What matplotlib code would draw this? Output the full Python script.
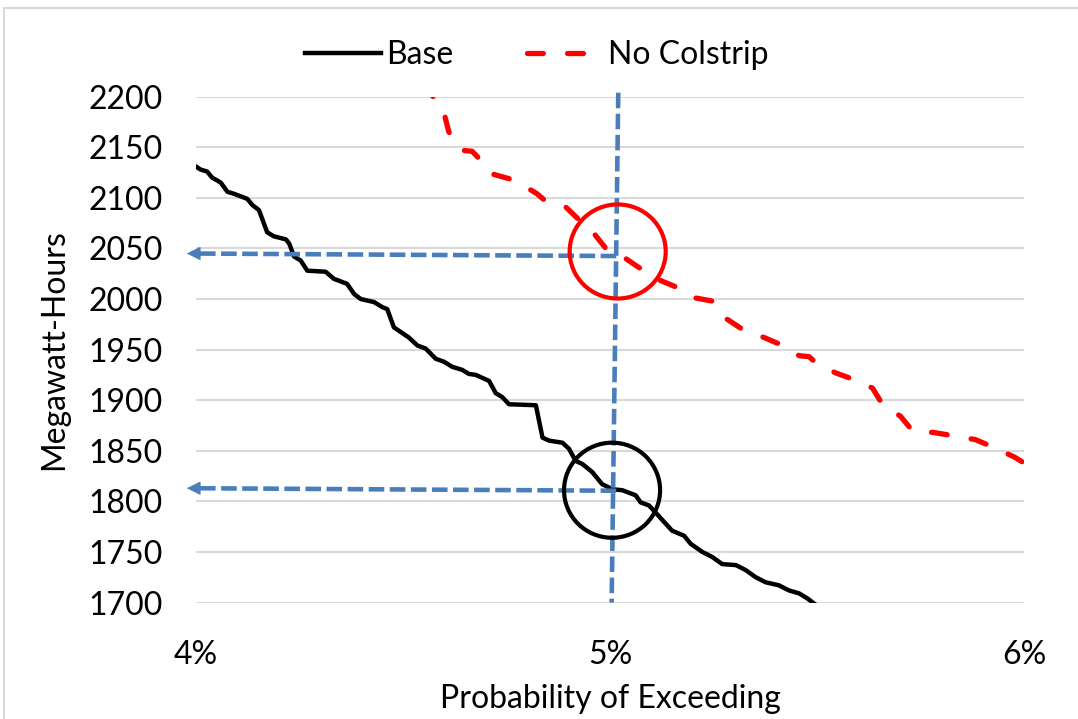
import matplotlib.pyplot as plt
from matplotlib.patches import Ellipse, Rectangle

plt.rcParams['font.family'] = ['Lato', 'DejaVu Sans']

# probability of exceeding (%) and megawatt-hours
base_x = [4.000, 4.011, 4.027, 4.039, 4.052, 4.060, 4.076, 4.092, 4.124, 4.136,
          4.152, 4.172, 4.188, 4.217, 4.225, 4.237, 4.253, 4.269, 4.313, 4.333,
          4.365, 4.382, 4.398, 4.430, 4.450, 4.462, 4.478, 4.514, 4.535, 4.555,
          4.579, 4.599, 4.619, 4.643, 4.659, 4.676, 4.708, 4.724, 4.740, 4.756,
          4.821, 4.837, 4.853, 4.885, 4.901, 4.917, 4.933, 4.957, 4.981, 5.006,
          5.030, 5.062, 5.074, 5.094, 5.110, 5.130, 5.150, 5.179, 5.195, 5.223,
          5.247, 5.271, 5.304, 5.328, 5.352, 5.376, 5.408, 5.432, 5.457, 5.477,
          5.493]
base_y = [2131, 2128, 2126, 2120, 2117, 2115, 2106, 2104, 2099, 2093,
          2088, 2066, 2062, 2059, 2055, 2042, 2038, 2028, 2027, 2020,
          2015, 2005, 2000, 1997, 1992, 1990, 1972, 1962, 1954, 1951,
          1941, 1938, 1933, 1930, 1926, 1925, 1919, 1907, 1903, 1896,
          1895, 1863, 1860, 1858, 1852, 1840, 1837, 1829, 1817, 1812,
          1811, 1806, 1799, 1796, 1789, 1780, 1771, 1766, 1758, 1750,
          1745, 1738, 1737, 1732, 1725, 1720, 1717, 1712, 1709, 1704,
          1699]

nocol_x = [4.560, 4.571, 4.599, 4.611, 4.643, 4.667, 4.679, 4.712, 4.756, 4.804,
           4.824, 4.841, 4.893, 4.921, 4.961, 4.990, 5.038, 5.074, 5.118, 5.159,
           5.207, 5.247, 5.283, 5.320, 5.372, 5.412, 5.457, 5.481, 5.497, 5.545,
           5.585, 5.634, 5.658, 5.702, 5.730, 5.783, 5.827, 5.883, 5.923, 5.976,
           6.004]
nocol_y = [2215, 2201, 2184, 2165, 2147, 2146, 2141, 2124, 2119, 2109,
           2104, 2098, 2091, 2080, 2065, 2050, 2040, 2030, 2019, 2012,
           2001, 1998, 1980, 1970, 1962, 1955, 1944, 1943, 1937, 1927,
           1921, 1912, 1896, 1884, 1870, 1868, 1865, 1861, 1854, 1844,
           1837]

y_ticks = list(range(1700, 2201, 50))
x_ticks = [4, 5, 6]
x_labels = ['4%', '5%', '6%']

# readings marked on the chart
mark_x = 5.0
read_nocol = 2045
read_base = 1813

blue = '#4a7ebb'
fs = 23

fig = plt.figure(figsize=(10.78, 7.19), dpi=100)
ax = fig.add_axes([0.1818, 0.162, 0.7681, 0.7035])

ax.plot(base_x, base_y, color='black', lw=3.2, label='Base', zorder=3,
        solid_joinstyle='round')
ax.plot(nocol_x, nocol_y, color='#ff0000', lw=3.8, label='No Colstrip',
        dashes=(3.0, 4.6), dash_capstyle='round', zorder=3)

# guide lines (hand-drawn shapes in the original, slightly tilted)
ax.plot([mark_x + 0.02, mark_x + 0.004], [2204, 1700], color=blue, lw=3.3,
        dashes=(3.4, 1.2), clip_on=False, zorder=4)
for y_val in [read_nocol, read_base]:
    ax.plot([mark_x + 0.015, 3.99], [y_val - 2.5, y_val], color=blue, lw=3.3,
            dashes=(3.4, 1.2), clip_on=False, zorder=4)
    ax.annotate('', xy=(3.978, y_val), xytext=(4.02, y_val),
                arrowprops=dict(arrowstyle='-|>,head_length=0.9,head_width=0.45',
                                color=blue, lw=0.5, shrinkA=0, shrinkB=0),
                annotation_clip=False, zorder=4)

ax.add_patch(Ellipse((5.0186, 2047), 0.232, 93, fill=False, ec='#ff0000',
                     lw=3.0, zorder=5, clip_on=False))
ax.add_patch(Ellipse((5.005, 1811), 0.232, 94, fill=False, ec='black',
                     lw=3.0, zorder=5, clip_on=False))

ax.set_xlim(4, 6)
ax.set_ylim(1700, 2200)
ax.set_yticks(y_ticks)
ax.set_xticks(x_ticks)
ax.set_xticklabels(x_labels)
ax.grid(axis='y', color='#d9d9d9', lw=1.5)
ax.set_axisbelow(True)
for s in ax.spines.values():
    s.set_visible(False)
ax.tick_params(axis='both', length=0, labelsize=fs)
ax.tick_params(axis='y', pad=24)
ax.tick_params(axis='x', pad=27)

ax.set_xlabel('Probability of Exceeding', fontsize=fs, labelpad=10)
ax.set_ylabel('Megawatt-Hours', fontsize=fs, labelpad=14)

fig.legend(loc='center', bbox_to_anchor=(0.498, 0.923), ncol=2, frameon=False,
           fontsize=fs, handlelength=2.4, handletextpad=0.15, columnspacing=2.3)

# light outer chart border
fig.patches.append(Rectangle((0.004, -0.05), 1.1, 1.05 - 0.011, transform=fig.transFigure,
                             fill=False, ec='#d9d9d9', lw=1.5, figure=fig))

fig.savefig('out.png', dpi=100)
